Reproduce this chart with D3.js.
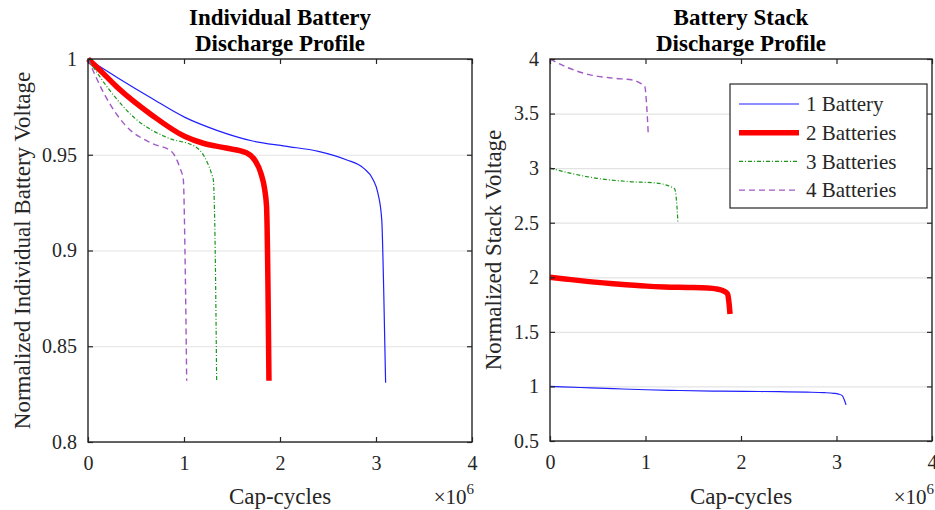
<!DOCTYPE html>
<html>
<head>
<meta charset="utf-8">
<script src="https://cdn.jsdelivr.net/npm/d3@7"></script>
<style>
  html, body { margin: 0; padding: 0; background: #fff; }
  svg { display: block; font-family: "Liberation Serif", "Times New Roman", serif; }
</style>
</head>
<body>
<svg id="chart" width="935" height="510"></svg>
<script>
// Discharge profiles: cap-cycles (x 10^6) against normalized voltage per battery
const seriesNames = ["1 Battery", "2 Batteries", "3 Batteries", "4 Batteries"];
const batteryCounts = [1, 2, 3, 4];

const cycles1 = [0, 0.316, 0.663, 1.01, 1.357, 1.705, 2.05, 2.40, 2.69, 2.87, 2.97, 3.02, 3.06, 3.08, 3.10];
const volts1  = [1, 0.990, 0.9795, 0.9695, 0.9625, 0.9573, 0.9545, 0.9518, 0.9474, 0.943, 0.937, 0.930, 0.916, 0.88, 0.831];

const cycles2 = [0, 0.158, 0.316, 0.663, 1.01, 1.20, 1.44, 1.65, 1.74, 1.80, 1.84, 1.86, 1.875, 1.885];
const volts2  = [1, 0.9925, 0.9847, 0.9708, 0.9595, 0.9560, 0.9535, 0.951, 0.947, 0.9405, 0.932, 0.923, 0.88, 0.832];

const cycles3 = [0, 0.21, 0.49, 0.837, 1.115, 1.22, 1.29, 1.305, 1.325, 1.34];
const volts3  = [1, 0.9847, 0.969, 0.9587, 0.9543, 0.9483, 0.9396, 0.937, 0.90, 0.832];

const cycles4 = [0, 0.177, 0.385, 0.663, 0.87, 0.958, 0.993, 1.01, 1.028];
const volts4  = [1, 0.981, 0.9656, 0.956, 0.9517, 0.943, 0.937, 0.90, 0.832];

const xTicks = [0, 1, 2, 3, 4];
const leftYTicks = [0.8, 0.85, 0.9, 0.95, 1];
const leftYLabels = ["0.8", "0.85", "0.9", "0.95", "1"];
const rightYTicks = [0.5, 1, 1.5, 2, 2.5, 3, 3.5, 4];
const rightYLabels = ["0.5", "1", "1.5", "2", "2.5", "3", "3.5", "4"];

const allCycles = [cycles1, cycles2, cycles3, cycles4];
const allVolts = [volts1, volts2, volts3, volts4];

const styles = [
  { color: "#1f1fff", width: 1.2, dash: null },
  { color: "#ff0000", width: 5.5, dash: null },
  { color: "#1a961a", width: 1.2, dash: "4,2,1,2" },
  { color: "#a05ac6", width: 1.4, dash: "6,4" }
];

const ink = "#262626";
const svg = d3.select("#chart");

function drawPanel(opts) {
  const { x0, x1, y0, y1, yDomain, yTicks, yLabels, title, yLabel, stacked } = opts;
  const x = d3.scaleLinear().domain([0, 4]).range([x0, x1]);
  const y = d3.scaleLinear().domain(yDomain).range([y1, y0]);
  const g = svg.append("g");

  // horizontal grid
  g.append("g")
    .attr("transform", `translate(${x0},0)`)
    .call(d3.axisLeft(y).tickValues(yTicks).tickSize(-(x1 - x0)).tickFormat(""))
    .call(s => s.select(".domain").remove())
    .call(s => s.selectAll("line").attr("stroke", "#e3e3e3").attr("stroke-width", 1.2));

  // discharge curves
  const line = d3.line().curve(d3.curveMonotoneX).x(d => x(d[0])).y(d => y(d[1]));
  allCycles.forEach((cs, i) => {
    const n = stacked ? batteryCounts[i] : 1;
    const pts = cs.map((c, k) => [c, allVolts[i][k] * n]);
    g.append("path")
      .attr("d", line(pts))
      .attr("fill", "none")
      .attr("stroke", styles[i].color)
      .attr("stroke-width", styles[i].width)
      .attr("stroke-dasharray", styles[i].dash)
      .attr("stroke-linejoin", "round");
  });

  // axes with inward ticks on all four sides
  const styleAxis = s => {
    s.select(".domain").remove();
    s.selectAll("line").attr("stroke", ink).attr("stroke-width", 1.2);
    s.selectAll("text").attr("fill", ink).attr("font-size", 20).attr("font-family", "Liberation Serif, serif");
  };
  g.append("g").attr("transform", `translate(0,${y1})`)
    .call(d3.axisBottom(x).tickValues(xTicks).tickSize(-5).tickPadding(14).tickFormat(d3.format("d")))
    .call(styleAxis);
  g.append("g").attr("transform", `translate(0,${y0})`)
    .call(d3.axisTop(x).tickValues(xTicks).tickSize(-5).tickFormat(""))
    .call(styleAxis);
  g.append("g").attr("transform", `translate(${x0},0)`)
    .call(d3.axisLeft(y).tickValues(yTicks).tickSize(-5).tickPadding(11).tickFormat((d, i) => yLabels[i]))
    .call(styleAxis);
  g.append("g").attr("transform", `translate(${x1},0)`)
    .call(d3.axisRight(y).tickValues(yTicks).tickSize(-5).tickFormat(""))
    .call(styleAxis);

  // frame
  g.append("rect")
    .attr("x", x0).attr("y", y0).attr("width", x1 - x0).attr("height", y1 - y0)
    .attr("fill", "none").attr("stroke", ink).attr("stroke-width", 1.4);

  // title
  const cx = (x0 + x1) / 2;
  const t = g.append("text").attr("text-anchor", "middle").attr("font-weight", "bold")
    .attr("font-size", 23).attr("fill", "#000");
  t.append("tspan").attr("x", cx).attr("y", 25).text(title[0]);
  t.append("tspan").attr("x", cx).attr("y", 51).text(title[1]);

  // axis labels
  g.append("text").attr("x", cx).attr("y", 504).attr("text-anchor", "middle")
    .attr("font-size", 23).attr("fill", ink).text("Cap-cycles");
  const m = g.append("text").attr("x", x1 + 2).attr("y", 504).attr("text-anchor", "end")
    .attr("font-size", 21).attr("fill", ink);
  m.append("tspan").text("×10");
  m.append("tspan").attr("dy", -10).attr("font-size", 15).text("6");

  const yc = (y0 + y1) / 2;
  g.append("text")
    .attr("transform", `translate(${opts.yLabelX},${yc}) rotate(-90)`)
    .attr("text-anchor", "middle").attr("font-size", 23).attr("fill", ink)
    .text(yLabel);

  return { x, y, g };
}

drawPanel({
  x0: 88, x1: 472, y0: 59, y1: 442,
  yDomain: [0.8, 1], yTicks: leftYTicks, yLabels: leftYLabels,
  title: ["Individual Battery", "Discharge Profile"],
  yLabel: "Normalized Individual Battery Voltage", yLabelX: 30, stacked: false
});

drawPanel({
  x0: 550, x1: 932, y0: 59, y1: 441,
  yDomain: [0.5, 4], yTicks: rightYTicks, yLabels: rightYLabels,
  title: ["Battery Stack", "Discharge Profile"],
  yLabel: "Normalized Stack Voltage", yLabelX: 501, stacked: true
});

// legend
const lg = svg.append("g");
lg.append("rect").attr("x", 730).attr("y", 84).attr("width", 197).attr("height", 124)
  .attr("fill", "#fff").attr("stroke", ink).attr("stroke-width", 1.2);
seriesNames.forEach((name, i) => {
  const ly = 104 + i * 28.7;
  lg.append("line").attr("x1", 739).attr("x2", 799).attr("y1", ly).attr("y2", ly)
    .attr("stroke", styles[i].color).attr("stroke-width", styles[i].width)
    .attr("stroke-dasharray", styles[i].dash);
  lg.append("text").attr("x", 806).attr("y", ly).attr("dy", "0.35em")
    .attr("font-size", 21).attr("fill", ink).text(name);
});
</script>
</body>
</html>
